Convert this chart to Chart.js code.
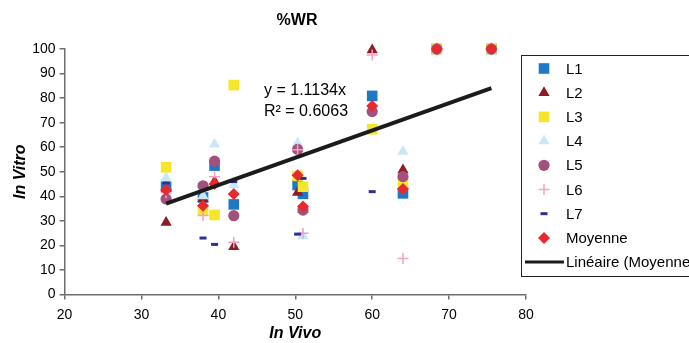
<!DOCTYPE html>
<html>
<head>
<meta charset="utf-8">
<script src="https://cdn.jsdelivr.net/npm/chart.js@4.4.0/dist/chart.umd.min.js"></script>
<style>
    html, body { margin: 0; padding: 0; background: #fff; }
    #wrap { width: 689px; height: 343px; }
</style>
</head>
<body>
<div id="wrap"><canvas id="wrChart" width="689" height="343"></canvas></div>
<script>
// In Vivo values (x) shared by every series
const xValues = [33.2, 38.0, 39.5, 42.0, 50.3, 51.0, 60.0, 64.0, 68.4, 75.5];

// In Vitro values (y) per series
const l1 = [43.9, 39.5, 52.5, 36.7, 44.6, 41.0, 80.9, 41.2, 100, 100];
const l2 = [29.3, 39.0, 46.0, 19.5, 41.5, 34.5, 99.6, 50.7, 100, 100];
const l3 = [51.8, 34.4, 32.4, 85.3, 48.3, 43.9, 67.3, 45.3, 100, 100];
const l4 = [47.5, 40.1, 61.2, 44.7, 61.6, 23.8, 75.5, 58.2, 100, 100];
const l5 = [38.9, 44.3, 54.3, 32.1, 59.1, 34.4, 74.5, 48.0, 100, 100];
const l6 = [41.4, 32.2, 48.0, 21.3, 59.0, 25.0, 97.6, 14.7, 100, 100];
const l7 = [45.4, 23.0, 20.4, 46.0, 24.6, 47.3, 41.9, 42.8, 100, 100];
const moyenne = [42.6, 36.2, 45.0, 40.9, 48.6, 35.8, 76.8, 43.0, 100, 100];

// Linear trend of Moyenne (y = 1.1134x), from first to last x
const trendX = [33.2, 75.5];
const trendY = [37.0, 84.1];

const seriesNames = ['L1', 'L2', 'L3', 'L4', 'L5', 'L6', 'L7', 'Moyenne'];
const seriesValues = [l1, l2, l3, l4, l5, l6, l7, moyenne];
const trendName = 'Linéaire (Moyenne)';
const equationLines = ['y = 1.1134x', 'R\u00B2 = 0.6063'];

const xTicks = { min: 20, max: 80, step: 10 };
const yTicks = { min: 0, max: 100, step: 10 };

// marker looks
const markerStyles = [
    { style: 'rect', color: '#1f78c6', radius: 7.5, border: 0 },
    { style: 'triangle', color: '#8c1d22', radius: 6.5, border: 0 },
    { style: 'rect', color: '#f6e62a', radius: 7.5, border: 0 },
    { style: 'triangle', color: '#c8e8f6', radius: 6.5, border: 0 },
    { style: 'circle', color: '#a2507c', radius: 5.6, border: 0 },
    { style: 'cross', color: '#f2a2c2', radius: 5.5, border: 1.5 },
    { style: 'line', color: '#2e3192', radius: 3.5, border: 3 },
    { style: 'rectRot', color: '#e8292e', radius: 6, border: 0 }
];

const FONT = "'Liberation Sans', Arial, Helvetica, sans-serif";

function toPoints(xs, ys) {
    return xs.map((x, i) => ({ x: x, y: ys[i] }));
}

const datasets = seriesValues.map((vals, i) => {
    const m = markerStyles[i];
    return {
        label: seriesNames[i],
        data: toPoints(xValues, vals),
        showLine: false,
        clip: false,
        pointStyle: m.style,
        pointRadius: m.radius,
        pointBackgroundColor: m.color,
        pointBorderColor: m.color,
        pointBorderWidth: m.border,
        order: 20 - i
    };
});

datasets.push({
    label: trendName,
    data: toPoints(trendX, trendY),
    showLine: true,
    clip: false,
    borderColor: '#1b1b1b',
    borderWidth: 4,
    pointRadius: 0,
    order: 0
});

// title, equation and legend box, drawn by hand
const overlay = {
    id: 'overlay',
    afterDraw(chart) {
        const ctx = chart.ctx;
        ctx.save();
        ctx.fillStyle = '#000';
        ctx.textBaseline = 'middle';

        ctx.font = 'bold 16px ' + FONT;
        ctx.textAlign = 'center';
        ctx.fillText('%WR', 297, 21);

        ctx.font = '16px ' + FONT;
        ctx.textAlign = 'left';
        ctx.fillText(equationLines[0], 264, 91);
        ctx.fillText(equationLines[1], 264, 112);

        // legend
        ctx.strokeStyle = '#222';
        ctx.lineWidth = 1;
        ctx.strokeRect(521.5, 55.5, 200, 221);

        ctx.font = '15px ' + FONT;
        const h = Chart.helpers;
        seriesNames.forEach((name, i) => {
            const y = 68.5 + i * 24.2;
            const m = markerStyles[i];
            ctx.fillStyle = m.color;
            ctx.strokeStyle = m.color;
            ctx.lineWidth = m.border;
            h.drawPoint(ctx, { pointStyle: m.style, radius: m.radius, rotation: 0, borderWidth: m.border }, 544, y);
            ctx.fillStyle = '#000';
            ctx.fillText(name, 566, y + 1);
        });

        const ty = 68.5 + 8 * 24.2;
        ctx.strokeStyle = '#1b1b1b';
        ctx.lineWidth = 3;
        ctx.beginPath();
        ctx.moveTo(525, ty);
        ctx.lineTo(564, ty);
        ctx.stroke();
        ctx.fillStyle = '#000';
        ctx.fillText(trendName, 566, ty + 1);

        ctx.restore();
    }
};

const axisColor = '#6e6e6e';

new Chart(document.getElementById('wrChart').getContext('2d'), {
    type: 'scatter',
    data: { datasets: datasets },
    options: {
        responsive: false,
        animation: false,
        events: [],
        layout: { padding: { top: 49, right: 163, left: 0, bottom: 0 } },
        plugins: {
            legend: { display: false },
            tooltip: { enabled: false }
        },
        scales: {
            x: {
                type: 'linear',
                min: xTicks.min,
                max: xTicks.max,
                ticks: { stepSize: xTicks.step, color: '#000', font: { family: FONT, size: 14 }, padding: 7 },
                grid: { drawOnChartArea: false, drawTicks: true, tickLength: 5, color: axisColor, lineWidth: 1.5 },
                border: { color: axisColor, width: 1.5 },
                title: { display: true, text: 'In Vivo', color: '#000', font: { family: FONT, size: 16, weight: 'bold', style: 'italic' }, padding: { top: 0, bottom: 0 } },
                afterFit: s => { s.height = 48.5; }
            },
            y: {
                type: 'linear',
                min: yTicks.min,
                max: yTicks.max,
                ticks: { stepSize: yTicks.step, color: '#000', font: { family: FONT, size: 14 }, padding: 4 },
                grid: { drawOnChartArea: false, drawTicks: true, tickLength: 5, color: axisColor, lineWidth: 1.5 },
                border: { color: axisColor, width: 1.5 },
                title: { display: true, text: 'In Vitro', color: '#000', font: { family: FONT, size: 16, weight: 'bold', style: 'italic' }, padding: { top: 11, bottom: 0 } },
                afterFit: s => { s.width = 64.6; }
            }
        }
    },
    plugins: [overlay]
});
</script>
</body>
</html>
